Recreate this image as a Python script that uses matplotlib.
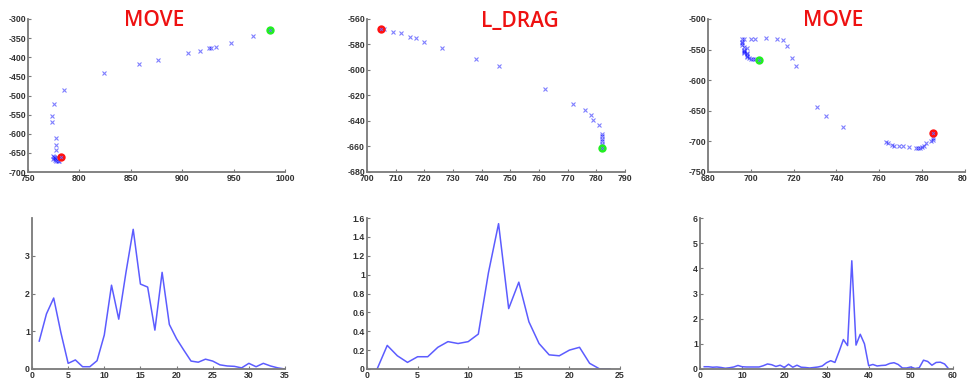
import matplotlib
matplotlib.use("Agg")
import matplotlib.pyplot as plt
import numpy as np

# ---------------- data ----------------
titles = ["MOVE", "L_DRAG", "MOVE"]

# panel 1 trajectory
p1_x = [985, 969, 947, 933, 928, 926, 917, 906, 876, 858, 824, 785, 775, 773, 773,
        777, 777, 777, 778, 776, 774, 775, 774, 776, 777, 779, 780, 782]
p1_y = [-329, -344, -364, -373, -375, -377, -383, -390, -407, -417, -442, -486, -521, -553, -570,
        -610, -629, -642, -660, -664, -658, -662, -666, -668, -671, -671, -670, -662]
p1_start = (985, -329)   # green
p1_end = (782, -662)     # red

# panel 2 trajectory
p2_x = [705, 706, 709, 712, 715, 717, 720, 726, 738, 746, 762, 772, 776, 778, 779, 781,
        782, 782, 782, 782, 782, 782, 782]
p2_y = [-568, -568, -570, -571, -574, -575, -578, -583, -591, -597, -615, -627, -631, -635, -639, -643,
        -650, -652, -654, -656, -658, -660, -661]
p2_start = (705, -568)   # red
p2_end = (782, -661)     # green

# panel 3 trajectory
p3_x = [704, 702, 701, 700, 699, 698, 698, 698, 697, 697, 697, 697, 697, 696, 696, 696, 696,
        697, 698, 698, 700, 702, 707, 712, 715, 717, 719, 721,
        731, 735, 743,
        763, 764, 766, 767, 769, 771, 774, 777, 778, 779, 780, 781, 782, 784, 785, 785]
p3_y = [-567, -566, -565, -565, -563, -562, -560, -558, -556, -554, -552, -550, -546, -543, -540, -537, -533,
        -533, -548, -555, -532, -532, -531, -532, -534, -544, -563, -577,
        -643, -658, -677,
        -701, -703, -706, -707, -707, -708, -709, -710, -710, -710, -709, -708, -703, -700, -697, -694]
p3_start = (704, -567)   # green
p3_end = (785, -686)     # red

# speed curves
s1 = [0.74, 1.46, 1.88, 0.96, 0.15, 0.24, 0.06, 0.06, 0.22, 0.90, 2.22, 1.32, 2.56, 3.70, 2.25,
      2.17, 1.03, 2.56, 1.18, 0.80, 0.50, 0.21, 0.18, 0.26, 0.21, 0.11, 0.08, 0.07, 0.03, 0.15,
      0.06, 0.15, 0.08, 0.03, 0.0]
s2 = [0.0, 0.25, 0.14, 0.07, 0.13, 0.13, 0.23, 0.29, 0.27, 0.29, 0.37, 1.02, 1.54, 0.64, 0.92,
      0.50, 0.27, 0.15, 0.14, 0.20, 0.23, 0.06, 0.0, 0.0]
s3 = [0.09, 0.09, 0.07, 0.08, 0.06, 0.03, 0.05, 0.08, 0.14, 0.09, 0.08, 0.08, 0.08, 0.08, 0.13,
      0.20, 0.17, 0.10, 0.15, 0.06, 0.19, 0.07, 0.15, 0.07, 0.06, 0.04, 0.06, 0.08, 0.12, 0.25,
      0.33, 0.26, 0.70, 1.17, 0.93, 4.30, 0.95, 1.38, 1.00, 0.13, 0.18, 0.12, 0.14, 0.15, 0.22,
      0.25, 0.18, 0.04, 0.04, 0.08, 0.02, 0.05, 0.35, 0.30, 0.15, 0.26, 0.27, 0.20, 0.0]

top_xlim = [(750, 1000), (700, 790), (680, 800)]
top_ylim = [(-700, -300), (-680, -560), (-750, -500)]
top_xticks = [np.arange(750, 1001, 50), np.arange(700, 791, 10), np.arange(680, 801, 20)]
top_yticks = [np.arange(-700, -299, 50), np.arange(-680, -559, 20), np.arange(-750, -499, 50)]

bot_xlim = [(0, 35), (0, 25), (0, 60)]
bot_ylim = [(0, 4), (0, 1.6), (0, 6)]
bot_xticks = [np.arange(0, 36, 5), np.arange(0, 26, 5), np.arange(0, 61, 10)]
bot_yticks = [[0, 1, 2, 3], [0, 0.2, 0.4, 0.6, 0.8, 1, 1.2, 1.4, 1.6], [0, 1, 2, 3, 4, 5, 6]]

# ---------------- layout ----------------
W, H = 967, 380
fig = plt.figure(figsize=(W / 100, H / 100), dpi=100)

def rect(x0, x1, y0, y1):
    return [x0 / W, 1 - y1 / H, (x1 - x0) / W, (y1 - y0) / H]

top_rects = [rect(28, 285, 19, 172), rect(367, 625, 19, 172), rect(708, 965, 19, 172)]
bot_rects = [rect(32, 285, 218, 369), rect(367, 620, 218, 369), rect(700, 953, 218, 369)]

spine_col = "#7a7a7a"
tick_col = "#333333"
line_col = "#5c5cff"

def style(ax):
    for s in ["top", "right"]:
        ax.spines[s].set_visible(False)
    for s in ["left", "bottom"]:
        ax.spines[s].set_color(spine_col)
        ax.spines[s].set_linewidth(1.3)
    ax.tick_params(direction="in", length=2.5, width=0.8, color=spine_col,
                   labelsize=6.3, labelcolor=tick_col, pad=1.5)
    for lab in ax.get_xticklabels() + ax.get_yticklabels():
        lab.set_fontfamily("Liberation Sans")
        lab.set_fontweight("bold")

def fmt(v):
    s = ("%g" % v)
    return s

trajs = [(p1_x, p1_y, p1_start, p1_end, True),
         (p2_x, p2_y, p2_start, p2_end, False),
         (p3_x, p3_y, p3_start, p3_end, True)]

for i in range(3):
    ax = fig.add_axes(top_rects[i])
    xs, ys, st, en, start_green = trajs[i]
    ax.plot(xs, ys, linestyle="none", marker="x", color="blue", alpha=0.5,
            markersize=3.2, markeredgewidth=0.8)
    gpt = st if start_green else en
    rpt = en if start_green else st
    ax.plot([gpt[0]], [gpt[1]], "o", color="#22ee22", markersize=6, markeredgewidth=0, zorder=5)
    ax.plot([rpt[0]], [rpt[1]], "o", color="#ff1111", markersize=6, markeredgewidth=0, zorder=5)
    ax.plot([gpt[0], rpt[0]], [gpt[1], rpt[1]], linestyle="none", marker="x", color="#6a6aff",
            markersize=2, markeredgewidth=0.6, zorder=6)
    ax.set_xlim(*top_xlim[i])
    ax.set_ylim(*top_ylim[i])
    ax.set_xticks(top_xticks[i])
    ax.set_yticks(top_yticks[i])
    ax.set_xticklabels([fmt(v) for v in top_xticks[i]])
    ax.set_yticklabels([fmt(v) for v in top_yticks[i]])
    style(ax)

speeds = [s1, s2, s3]
for i in range(3):
    ax = fig.add_axes(bot_rects[i])
    s = speeds[i]
    ax.plot(np.arange(1, len(s) + 1), s, color=line_col, linewidth=1.1)
    ax.set_xlim(*bot_xlim[i])
    ax.set_ylim(*bot_ylim[i])
    ax.set_xticks(bot_xticks[i])
    ax.set_yticks(bot_yticks[i])
    ax.set_xticklabels([fmt(v) for v in bot_xticks[i]])
    ax.set_yticklabels([fmt(v) for v in bot_yticks[i]])
    style(ax)

title_pos = [(154, 21), (520, 21), (833, 21)]
for t, (px, py) in zip(titles, title_pos):
    fig.text(px / W, 1 - py / H, t, color="#ee1111", fontsize=15, fontfamily="Open Sans",
             fontweight="semibold", ha="center", va="center")

fig.savefig("out.png", dpi=100)
